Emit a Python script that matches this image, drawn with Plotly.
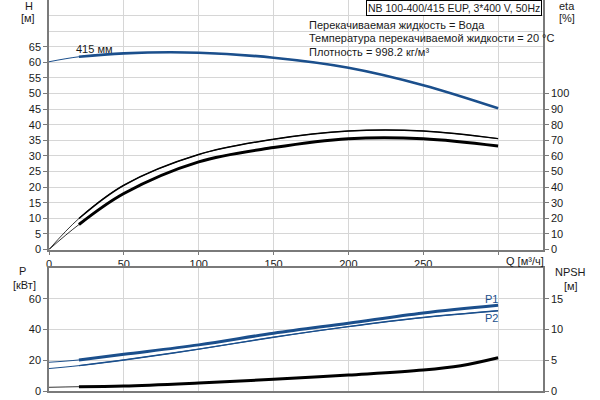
import plotly.graph_objects as go

# ---- data ----
Q = [0, 20, 50, 100, 150, 200, 250, 300]
H = [60.2, 61.8, 62.9, 63.1, 61.5, 58.3, 52.7, 45.3]
ETA_PUMP = [0, 19.9, 41.2, 60.9, 70.7, 76.0, 76.0, 71.1]
ETA_TOTAL = [0, 16.0, 35.9, 56.2, 65.4, 71.1, 71.1, 66.4]
P1 = [18.7, 20.2, 23.9, 30.0, 37.6, 44.1, 50.7, 55.7]
P2 = [14.6, 16.5, 20.2, 27.2, 35.0, 41.9, 47.8, 52.2]
Q_NPSH = [0, 20, 50, 100, 150, 200, 250, 275, 300]
NPSH = [0.6, 0.7, 0.8, 1.3, 1.9, 2.6, 3.4, 4.1, 5.4]

X_TICKS = [0, 50, 100, 150, 200, 250, 300]
X_TICKTEXT = ["0", "50", "100", "150", "200", "250", ""]
H_TICKS = list(range(0, 70, 5))
ETA_TICKS = list(range(0, 110, 10))
P_TICKS = [0, 20, 40, 60]
NPSH_TICKS = [0, 5, 10, 15]

BLUE = "#1b4f8c"
BLACK = "#000000"
GRID = "#d6d6d6"
AXIS = "#7a7a7a"
FONT = "Liberation Sans, Arial, sans-serif"
TXT = "#1a1a1a"

fig = go.Figure()


def add_curve(x, y, color, thick, xa, ya, thin_w=1.0):
    # thin line over full range, thicker line over operating range (from 2nd point)
    fig.add_trace(go.Scatter(x=x, y=y, mode="lines", xaxis=xa, yaxis=ya,
                             line=dict(color=color, width=thin_w, shape="spline", smoothing=1.0),
                             hoverinfo="skip", showlegend=False))
    fig.add_trace(go.Scatter(x=x[1:], y=y[1:], mode="lines", xaxis=xa, yaxis=ya,
                             line=dict(color=color, width=thick, shape="spline", smoothing=1.0),
                             hoverinfo="skip", showlegend=False))


add_curve(Q, H, BLUE, 2.6, "x", "y")
add_curve(Q, ETA_PUMP, BLACK, 1.5, "x", "y2", 0.8)
add_curve(Q, ETA_TOTAL, BLACK, 3.0, "x", "y2", 0.8)
add_curve(Q, P1, BLUE, 3.0, "x2", "y3")
add_curve(Q, P2, BLUE, 1.4, "x2", "y3")
add_curve(Q_NPSH, NPSH, BLACK, 3.0, "x2", "y4", 0.8)

XDOM = [49 / 600, 543 / 600]
axis_common = dict(showline=True, linecolor=AXIS, linewidth=1.5, ticks="outside",
                   ticklen=4, tickcolor=AXIS, tickfont=dict(family=FONT, size=11, color=TXT),
                   zeroline=False, fixedrange=True)

fig.update_layout(
    width=600, height=400,
    margin=dict(l=0, r=0, t=0, b=0, autoexpand=False),
    paper_bgcolor="white", plot_bgcolor="white",
    font=dict(family=FONT, size=11, color=TXT),
    xaxis=dict(domain=XDOM, anchor="y", range=[0, 330], tickvals=X_TICKS, ticktext=X_TICKTEXT,
               showgrid=True, gridcolor=GRID, gridwidth=1, **axis_common),
    yaxis=dict(domain=[1 - 249.5 / 400, 1], anchor="x", range=[0, 80], tickvals=H_TICKS,
               showgrid=True, gridcolor=GRID, gridwidth=1,
               minor=dict(tickvals=[70, 75], showgrid=True, gridcolor=GRID, ticks=""),
               **axis_common),
    yaxis2=dict(overlaying="y", side="right", anchor="x", range=[0, 160], tickvals=ETA_TICKS,
                showgrid=False, **axis_common),
    xaxis2=dict(domain=XDOM, anchor="y3", range=[0, 330], tickvals=X_TICKS, showticklabels=False,
                showgrid=True, gridcolor=GRID, gridwidth=1, mirror=True,
                **{k: v for k, v in axis_common.items() if k not in ("ticks",)}, ticks=""),
    yaxis3=dict(domain=[1 - 391 / 400, 1 - 268 / 400], anchor="x2", range=[0, 80], tickvals=P_TICKS,
                showgrid=True, gridcolor=GRID, gridwidth=1, **axis_common),
    yaxis4=dict(overlaying="y3", side="right", anchor="x2", range=[0, 20], tickvals=NPSH_TICKS,
                showgrid=False, **axis_common),
)


def ann(text, x, y, xanchor="center", color=TXT, size=11, **kw):
    fig.add_annotation(text=text, x=x / 600, y=1 - y / 400, xref="paper", yref="paper",
                       xanchor=xanchor, yanchor="middle", showarrow=False,
                       font=dict(family=FONT, size=size, color=color), **kw)


ann("H", 28.5, 6)
ann("[м]", 27.7, 18)
ann("eta", 567, 6)
ann("[%]", 567, 18)
ann("P", 22, 271)
ann("[кВт]", 24, 285)
ann("NPSH", 570, 272)
ann("[м]", 571, 286)
ann("Q [м³/ч]", 504, 261, xanchor="left")
ann("NB 100-400/415 EUP, 3*400 V, 50Hz", 454, 7.5, size=10.5, bordercolor="#000000", borderwidth=1,
    borderpad=1, bgcolor="white")
ann("Перекачиваемая жидкость = Вода", 307, 25, xanchor="left")
ann("Температура перекачиваемой жидкости = 20 °C", 307, 38.5, xanchor="left")
ann("Плотность = 998.2 кг/м³", 307, 52, xanchor="left")

# curve labels in data coordinates
fig.add_annotation(text="415 мм", x=17.0, y=64.3, xref="x", yref="y", xanchor="left",
                   yanchor="middle", showarrow=False, font=dict(family=FONT, size=11, color=TXT))
fig.add_annotation(text="P1", x=295.3, y=59.8, xref="x2", yref="y3", xanchor="center",
                   yanchor="middle", showarrow=False, font=dict(family=FONT, size=11, color=BLUE))
fig.add_annotation(text="P2", x=295.3, y=47.4, xref="x2", yref="y3", xanchor="center",
                   yanchor="middle", showarrow=False, font=dict(family=FONT, size=11, color=BLUE))

fig.write_html("out.html", config={"displayModeBar": False},
               post_script="document.body.style.margin='0';")
